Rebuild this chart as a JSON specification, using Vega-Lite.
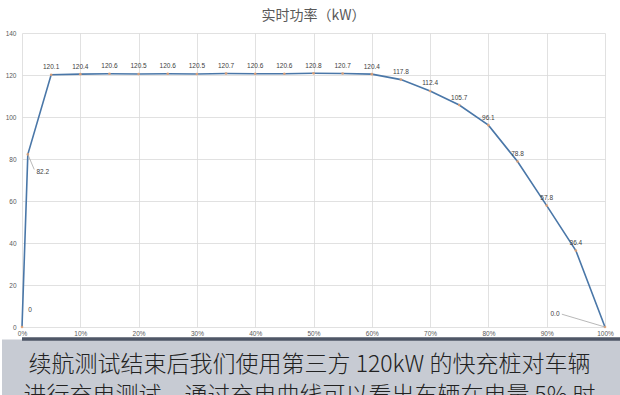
{
  "$schema": "https://vega.github.io/schema/vega-lite/v6.json",
  "padding": {"left": 0, "top": 9, "right": 0, "bottom": 0},
  "background": "white",
  "spacing": 0,
  "config": {
    "font": "Liberation Sans",
    "view": {"stroke": null}
  },
  "vconcat": [
    {
      "width": 583,
      "height": 294,
      "title": {"text": "实时功率（kW）", "font": "Noto Sans CJK SC", "fontSize": 14, "fontWeight": "normal", "color": "#595959", "offset": 7, "frame": "group"},
      "data": {"values": [
        {"pct": 0, "power": 0, "label": "0"},
        {"pct": 0.01, "power": 82.2, "label": "82.2"},
        {"pct": 0.05, "power": 120.1, "label": "120.1"},
        {"pct": 0.10, "power": 120.4, "label": "120.4"},
        {"pct": 0.15, "power": 120.6, "label": "120.6"},
        {"pct": 0.20, "power": 120.5, "label": "120.5"},
        {"pct": 0.25, "power": 120.6, "label": "120.6"},
        {"pct": 0.30, "power": 120.5, "label": "120.5"},
        {"pct": 0.35, "power": 120.7, "label": "120.7"},
        {"pct": 0.40, "power": 120.6, "label": "120.6"},
        {"pct": 0.45, "power": 120.6, "label": "120.6"},
        {"pct": 0.50, "power": 120.8, "label": "120.8"},
        {"pct": 0.55, "power": 120.7, "label": "120.7"},
        {"pct": 0.60, "power": 120.4, "label": "120.4"},
        {"pct": 0.65, "power": 117.8, "label": "117.8"},
        {"pct": 0.70, "power": 112.4, "label": "112.4"},
        {"pct": 0.75, "power": 105.7, "label": "105.7"},
        {"pct": 0.80, "power": 96.1, "label": "96.1"},
        {"pct": 0.85, "power": 78.8, "label": "78.8"},
        {"pct": 0.90, "power": 57.8, "label": "57.8"},
        {"pct": 0.95, "power": 36.4, "label": "36.4"},
        {"pct": 1.00, "power": 0, "label": "0.0"}
      ]},
      "encoding": {
        "x": {"field": "pct", "type": "quantitative",
          "scale": {"domain": [0, 1], "nice": false},
          "axis": {"values": [0, 0.1, 0.2, 0.3, 0.4, 0.5, 0.6, 0.7, 0.8, 0.9, 1], "format": ".0%", "title": null,
            "grid": true, "gridColor": "#d9d9d9", "gridWidth": 0.8, "domain": false, "ticks": false,
            "labelFontSize": 6.5, "labelColor": "#595959", "labelPadding": 3, "labelFlush": false}},
        "y": {"field": "power", "type": "quantitative",
          "scale": {"domain": [0, 140], "nice": false},
          "axis": {"values": [0, 20, 40, 60, 80, 100, 120, 140], "title": " ", "titleFontSize": 5, "titlePadding": 0,
            "grid": true, "gridColor": "#d9d9d9", "gridWidth": 0.8, "domain": false, "ticks": false,
            "labelFontSize": 6.5, "labelColor": "#595959", "labelPadding": 6}}
      },
      "layer": [
        {"mark": {"type": "line", "color": "#4a77a8", "strokeWidth": 1.6}},
        {"mark": {"type": "point", "filled": true, "size": 7, "color": "#e2a172", "opacity": 0.9}},
        {
          "transform": [{"filter": "datum.pct == 0.01"}],
          "mark": {"type": "rule", "color": "#a6a6a6", "strokeWidth": 0.8},
          "encoding": {"x2": {"datum": 0.021}, "y2": {"datum": 75}}
        },
        {
          "transform": [{"filter": "datum.pct == 1"}],
          "mark": {"type": "rule", "color": "#a6a6a6", "strokeWidth": 0.8},
          "encoding": {"x2": {"datum": 0.926}, "y2": {"datum": 6.1}}
        },
        {
          "transform": [{"filter": "datum.pct > 0.01 && datum.pct < 1"}],
          "mark": {"type": "text", "fontSize": 6.5, "color": "#404040", "dy": -7.5},
          "encoding": {"text": {"field": "label"}}
        },
        {
          "transform": [{"filter": "datum.pct == 0"}],
          "mark": {"type": "text", "fontSize": 6.5, "color": "#404040", "dx": 8, "dy": -17},
          "encoding": {"text": {"field": "label"}}
        },
        {
          "transform": [{"filter": "datum.pct == 0.01"}],
          "mark": {"type": "text", "fontSize": 6.5, "color": "#404040", "dx": 15, "dy": 17.5},
          "encoding": {"text": {"field": "label"}}
        },
        {
          "transform": [{"filter": "datum.pct == 1"}],
          "mark": {"type": "text", "fontSize": 6.5, "color": "#404040", "dx": -50, "dy": -12.7},
          "encoding": {"text": {"field": "label"}}
        }
      ]
    },
    {
      "width": 599,
      "height": 57,
      "view": {"fill": "#c7cbd3", "stroke": null},
      "data": {"values": [
        {"line": 1, "text": "续航测试结束后我们使用第三方 120kW 的快充桩对车辆"},
        {"line": 2, "text": "进行充电测试，通过充电曲线可以看出车辆在电量 5% 时"}
      ]},
      "layer": [
        {
          "mark": {"type": "rule", "color": "#4f5767", "strokeWidth": 3},
          "encoding": {"y": {"datum": 0.16, "type": "quantitative", "scale": {"domain": [0.16, 2], "reverse": true, "nice": false, "zero": false},
            "axis": {"domain": true, "domainColor": "#c7cbd3", "domainWidth": 41, "labels": false, "ticks": false, "grid": false, "title": null}}}
        },
        {
          "mark": {"type": "text", "font": "Noto Sans CJK SC", "fontSize": 23, "fontWeight": 300, "color": "#222222", "align": "center", "baseline": "middle", "dx": -12},
          "encoding": {
            "y": {"field": "line", "type": "quantitative", "scale": {"domain": [0.16, 2], "reverse": true, "nice": false, "zero": false}},
            "text": {"field": "text"}
          }
        }
      ]
    }
  ]
}
